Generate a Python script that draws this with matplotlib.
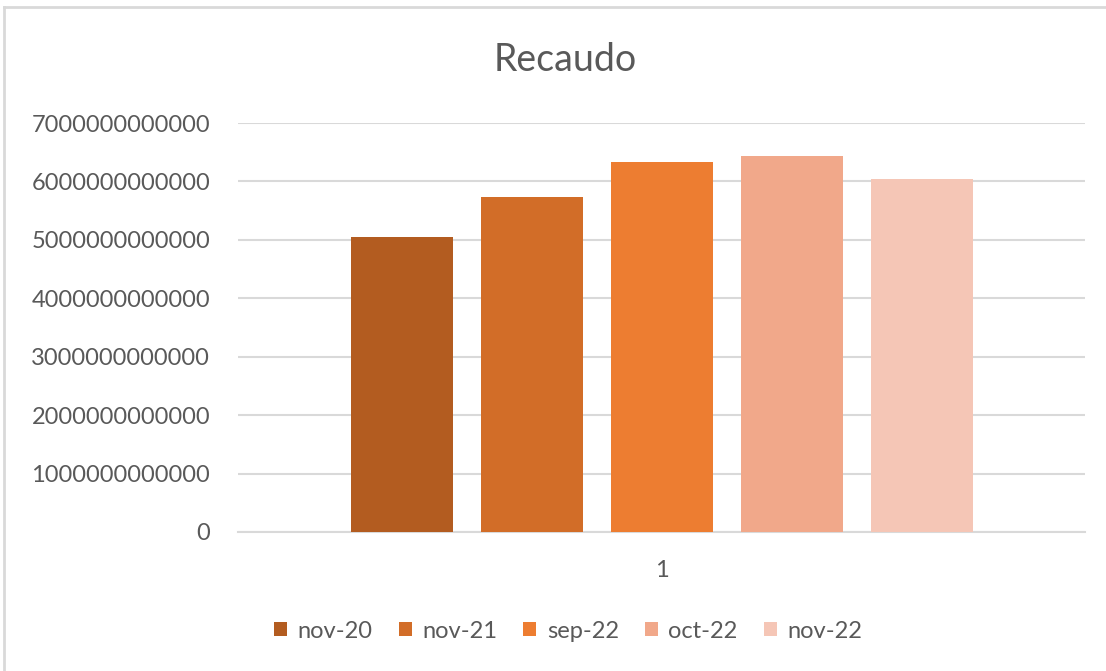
import numpy as np
import matplotlib.pyplot as plt
from matplotlib.ticker import FuncFormatter, MultipleLocator
from matplotlib.lines import Line2D

plt.rcParams['font.family'] = ['Lato', 'DejaVu Sans']

# Recaudo por periodo (una sola categoria "1")
periodos = ['nov-20', 'nov-21', 'sep-22', 'oct-22', 'nov-22']
recaudo = [5.054e12, 5.74e12, 6.327e12, 6.435e12, 6.04e12]
categoria = ['1']
colores = ['#B35C20', '#D26D28', '#ED7D31', '#F1A88A', '#F5C6B6']

texto = '#595959'
rejilla = '#D9D9D9'

fig = plt.figure(figsize=(11.06, 6.71), dpi=100)
ax = fig.add_axes([238/1106, 1-532/671, (1085-238)/1106, (532-123)/671])

ancho = 102/847
paso = 130/847
x0 = np.arange(len(categoria))
for i, (p, v, c) in enumerate(zip(periodos, recaudo, colores)):
    ax.bar(x0 + (i - 2)*paso, [v], width=ancho, color=c, label=p, zorder=3)

ax.set_xlim(-0.5, 0.5)
ax.set_ylim(0, 7e12)
ax.yaxis.set_major_locator(MultipleLocator(1e12))
ax.yaxis.set_major_formatter(FuncFormatter(lambda v, pos: f'{v:.0f}'))
ax.set_xticks(x0)
ax.set_xticklabels(categoria)
ax.grid(axis='y', color=rejilla, linewidth=1.5, zorder=0)
for s in ['top', 'right', 'left']:
    ax.spines[s].set_visible(False)
ax.spines['bottom'].set_color(rejilla)
ax.spines['bottom'].set_linewidth(1.5)
ax.tick_params(axis='both', length=0, colors=texto, labelsize=17)
ax.tick_params(axis='y', pad=20)
ax.tick_params(axis='x', pad=20)

fig.text(565/1106, 1-60/671, 'Recaudo', ha='center', va='center',
         fontsize=27, color=texto)

fig.legend(loc='center', bbox_to_anchor=(568/1106, 1-631/671), ncol=5,
           frameon=False, fontsize=17, labelcolor=texto,
           handlelength=0.55, handleheight=0.55, handletextpad=0.45,
           columnspacing=1.1)

# marco del area del grafico
fig.add_artist(Line2D([4/1106, 1], [1-7/671, 1-7/671], color=rejilla, lw=2))
fig.add_artist(Line2D([4/1106, 4/1106], [0, 1-7/671], color=rejilla, lw=2))

fig.savefig('out.png', dpi=100)
